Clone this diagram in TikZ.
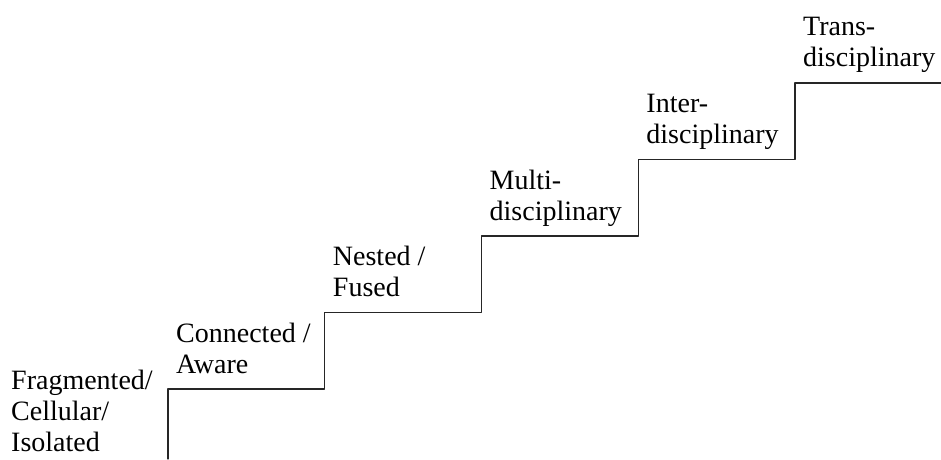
\documentclass[tikz,border=0pt]{standalone}
\usepackage{fontspec}
\setmainfont{Liberation Serif}
\begin{document}
\begin{tikzpicture}[x=1pt,y=1pt,line cap=round,line join=round,font=\fontsize{28}{31}\selectfont]
    \def\w{156.75} % step width
    \def\h{76.5}   % step height
    \useasboundingbox (0,0) rectangle (941,459);
    % staircase
    \draw[line width=1.2pt,black!85] (168,0)
        \foreach \i in {0,...,3}{ |- ({168+(\i+1)*\w},{70+\i*\h}) } |- (941,{70+4*\h});
    % labels
    \node[anchor=base west,align=left,inner sep=0pt] (frag) at (11,8) {Fragmented/\\Cellular/\\Isolated};
    \foreach \t [count=\i from 0] in {{Connected /\\Aware},{Nested /\\Fused},{Multi-\\disciplinary},{Inter-\\disciplinary},{Trans-\\disciplinary}}
        \node[anchor=base west,align=left,inner sep=0pt] (lvl\i) at ({176+\i*\w},{86+\i*\h}) {\t};
\end{tikzpicture}
\end{document}
